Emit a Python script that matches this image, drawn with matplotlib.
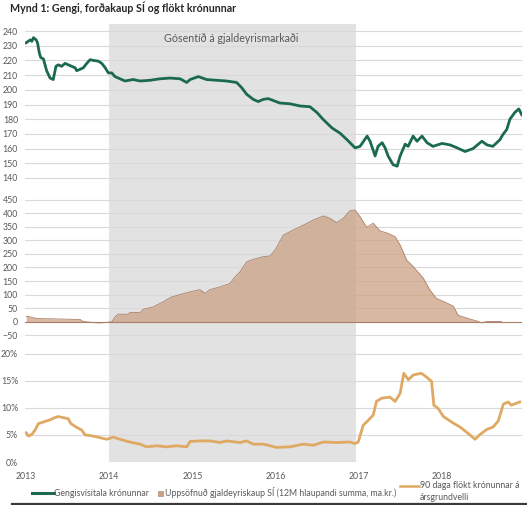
import numpy as np
import pandas as pd
import matplotlib
matplotlib.use("Agg")
import matplotlib.pyplot as plt
import matplotlib.dates as mdates
from matplotlib.lines import Line2D
from matplotlib.patches import Rectangle

plt.rcParams['font.family'] = ['Lato', 'DejaVu Sans']

# ---- Gengisvísitala krónunnar ----
gengi_dates = [
    "2013-01-01", "2013-01-19", "2013-01-26", "2013-02-02", "2013-02-14", "2013-02-20",
    "2013-02-28", "2013-03-06", "2013-03-18", "2013-04-01", "2013-04-16", "2013-04-30",
    "2013-05-12", "2013-05-22", "2013-06-06", "2013-06-21", "2013-07-05", "2013-07-20",
    "2013-08-04", "2013-08-11", "2013-08-26", "2013-09-09", "2013-09-24", "2013-10-09",
    "2013-10-23", "2013-11-14", "2013-11-29", "2013-12-14", "2013-12-28", "2014-01-12",
    "2014-01-26", "2014-02-17", "2014-03-11", "2014-04-16", "2014-05-16", "2014-06-29",
    "2014-08-12", "2014-09-25", "2014-11-08", "2014-12-07", "2014-12-22", "2015-01-27",
    "2015-03-04", "2015-04-17", "2015-05-31", "2015-07-14", "2015-08-05", "2015-08-27",
    "2015-09-25", "2015-10-17", "2015-11-08", "2015-11-30", "2016-01-20", "2016-03-04",
    "2016-04-17", "2016-05-31", "2016-07-01", "2016-07-27", "2016-09-05", "2016-10-10",
    "2016-11-10", "2016-12-15", "2017-01-06", "2017-02-06", "2017-02-19", "2017-03-13",
    "2017-03-26", "2017-04-13", "2017-04-26", "2017-05-09", "2017-05-31", "2017-06-18",
    "2017-07-01", "2017-07-23", "2017-08-05", "2017-08-27", "2017-09-13", "2017-10-05",
    "2017-10-27", "2017-11-22", "2018-01-01", "2018-02-05", "2018-03-08", "2018-04-12",
    "2018-05-17", "2018-06-25", "2018-07-17", "2018-08-12", "2018-09-12", "2018-09-25",
    "2018-10-12", "2018-10-26", "2018-11-16", "2018-12-04", "2018-12-17",
]
gengi_vals = [
    232, 234, 233, 235.5, 234, 232,
    225, 222, 221, 213, 208, 207,
    216, 217, 216, 218, 217, 216,
    215, 213, 214, 215, 218, 220.5,
    220, 219.5, 218, 215, 211.5, 211.5,
    209, 207.5, 206, 207, 206, 206.5,
    207.5, 208, 207.5, 205, 207, 209,
    207, 206.5, 206, 205, 201.5, 197,
    193.5, 192, 193.5, 194, 191, 190.5,
    189, 188.5, 184.5, 180, 174, 170.5,
    166, 160.5, 161.5, 168.5, 165, 155,
    161.5, 164, 160.5, 155, 149, 148,
    155, 163, 161.5, 168.5, 165, 168.5,
    164, 161.5, 163.5, 162.5, 160.5, 158,
    160, 165, 162.5, 161.5, 166, 169.5,
    173, 180, 184.5, 187, 183,
]

# ---- Uppsöfnuð gjaldeyriskaup SÍ (ma.kr.) ----
kaup_dates = [
    "2013-01-01", "2013-01-19", "2013-02-17", "2013-04-16", "2013-06-28", "2013-08-26",
    "2013-09-09", "2013-10-23", "2013-11-21", "2013-12-21", "2014-01-12", "2014-01-26",
    "2014-02-09", "2014-03-25", "2014-04-01", "2014-05-16", "2014-05-30", "2014-07-13",
    "2014-08-26", "2014-10-02", "2014-11-08", "2014-12-22", "2015-02-03", "2015-02-25",
    "2015-03-19", "2015-05-02", "2015-06-15", "2015-07-07", "2015-07-29", "2015-08-27",
    "2015-09-25", "2015-11-08", "2015-12-08", "2015-12-30", "2016-02-04", "2016-03-19",
    "2016-05-02", "2016-06-15", "2016-07-29", "2016-08-27", "2016-09-25", "2016-10-24",
    "2016-11-22", "2016-12-15", "2017-01-06", "2017-02-04", "2017-03-05", "2017-04-03",
    "2017-05-10", "2017-06-09", "2017-07-01", "2017-07-30", "2017-08-28", "2017-10-11",
    "2017-11-09", "2017-12-08", "2018-01-21", "2018-02-19", "2018-03-13", "2018-04-19",
    "2018-06-02", "2018-06-24", "2018-07-16", "2018-09-19",
]
kaup_vals = [
    19.7, 17, 11, 10, 8.6, 7.4,
    0, -4, -5, -3, -1.2, 17,
    27, 27, 33, 33, 45, 54,
    73, 91, 100, 110, 118, 104,
    118, 128, 141, 165, 184, 221,
    230, 240, 243, 265, 320, 339,
    357, 376, 391, 382, 366, 382,
    410, 413, 388, 349, 364, 336,
    326, 314, 283, 227, 203, 160,
    116, 85, 69, 57, 23, 13,
    2, -5, 0, 0,
]

# ---- 90 daga flökt krónunnar á ársgrundvelli (%) ----
flokt_dates = [
    "2013-01-01", "2013-01-11", "2013-01-26", "2013-02-09", "2013-02-24", "2013-03-18",
    "2013-04-16", "2013-05-07", "2013-05-22", "2013-06-13", "2013-07-05", "2013-07-16",
    "2013-08-11", "2013-09-02", "2013-09-17", "2013-10-09", "2013-11-21", "2013-12-21",
    "2014-01-19", "2014-02-17", "2014-04-01", "2014-05-16", "2014-06-14", "2014-07-28",
    "2014-09-10", "2014-10-24", "2014-12-07", "2014-12-22", "2015-02-03", "2015-03-19",
    "2015-05-02", "2015-05-31", "2015-07-29", "2015-08-27", "2015-09-25", "2015-11-08",
    "2015-12-08", "2016-01-05", "2016-03-04", "2016-05-02", "2016-06-15", "2016-07-29",
    "2016-09-25", "2016-11-22", "2016-12-15", "2016-12-29", "2017-01-20", "2017-02-11",
    "2017-03-05", "2017-03-19", "2017-04-11", "2017-05-17", "2017-06-09", "2017-07-01",
    "2017-07-17", "2017-08-06", "2017-08-28", "2017-10-02", "2017-10-22", "2017-11-16",
    "2017-11-26", "2017-12-15", "2018-01-07", "2018-02-19", "2018-03-20", "2018-04-19",
    "2018-05-26", "2018-06-17", "2018-07-16", "2018-08-14", "2018-09-05", "2018-09-27",
    "2018-10-19", "2018-11-01", "2018-12-08",
]
flokt_vals = [
    5.4, 4.8, 5.1, 5.9, 7.1, 7.4,
    7.8, 8.2, 8.4, 8.2, 8.0, 7.1,
    6.4, 5.9, 5.0, 4.9, 4.5, 4.2,
    4.6, 4.2, 3.7, 3.3, 2.8, 3.0,
    2.8, 3.0, 2.8, 3.8, 3.9, 3.9,
    3.6, 3.9, 3.6, 3.9, 3.3, 3.3,
    3.0, 2.7, 2.8, 3.3, 3.1, 3.7,
    3.6, 3.7, 3.4, 3.7, 6.8, 7.7,
    8.7, 11.2, 11.8, 12.0, 11.2, 12.7,
    16.4, 15.2, 16.1, 16.4, 15.8, 14.9,
    10.5, 9.9, 8.4, 7.2, 6.5, 5.5,
    4.2, 5.1, 6.0, 6.5, 7.6, 10.7,
    11.1, 10.5, 11.1,
]

shade_start, shade_end = "2014-01-01", "2016-12-20"

green = "#1b6a4e"
tan = "#cba183"
tan_edge = "#a97f66"
orange = "#dfa964"
grid_c = "#d9d9d9"
txt_c = "#595959"

gd = pd.to_datetime(gengi_dates)
kd = pd.to_datetime(kaup_dates)
fd = pd.to_datetime(flokt_dates)

fig = plt.figure(figsize=(5.27, 5.05), dpi=100)
W, H = 527, 505
left, right = 25 / W, 522 / W


def px_axes(top, bottom):
    return fig.add_axes([left, 1 - bottom / H, right - left, (bottom - top) / H])


ax1 = px_axes(24, 190)
ax2 = px_axes(190, 343)
ax3 = px_axes(343, 462)

for ax in (ax1, ax2, ax3):
    ax.set_facecolor("none")
    for s in ax.spines.values():
        s.set_visible(False)
    ax.axvspan(pd.Timestamp(shade_start), pd.Timestamp(shade_end),
               color="#e2e2e2", lw=0, zorder=0)
    ax.set_xlim(pd.Timestamp("2012-12-27"), pd.Timestamp("2018-12-18"))
    ax.xaxis.set_major_locator(mdates.YearLocator())
    ax.tick_params(axis="both", length=0, labelsize=6.3, colors=txt_c, pad=5)
    ax.yaxis.grid(True, color=grid_c, lw=0.8, zorder=1)
    ax.set_axisbelow(True)

# top: gengi
ax1.plot(gd, gengi_vals, color=green, lw=2.0, zorder=3)
ax1.set_ylim(131.8, 244.8)
ax1.set_yticks(np.arange(140, 241, 10))
ax1.tick_params(axis="x", labelbottom=False)
ax1.text(0.415, 0.915, "Gósentíð á gjaldeyrismarkaði", transform=ax1.transAxes,
         ha="center", va="center", fontsize=7.7, color=txt_c)

# middle: kaup
ax2.fill_between(kd, 0, kaup_vals, color=tan, alpha=0.75, lw=0, zorder=2)
ax2.plot(kd, kaup_vals, color=tan_edge, lw=0.6, zorder=3)
ax2.axhline(0, color=tan_edge, lw=0.8, zorder=3)
ax2.set_ylim(-79.6, 487)
ax2.set_yticks(np.arange(-50, 451, 50))
ax2.tick_params(axis="x", labelbottom=False)

# bottom: flokt
ax3.plot(fd, flokt_vals, color=orange, lw=2.0, zorder=3)
ax3.set_ylim(0, 22.0)
ax3.set_yticks(np.arange(0, 21, 5))
ax3.set_yticklabels([f"{v}%" for v in range(0, 21, 5)])
ax3.xaxis.set_major_formatter(mdates.DateFormatter("%Y"))
ax3.tick_params(axis="x", pad=7)

# title
fig.text(10 / W, 1 - 8 / H, "Mynd 1: Gengi, forðakaup SÍ og flökt krónunnar",
         ha="left", va="center", fontsize=7.7, fontweight="bold", color="#262626")

# legend (placed by hand to follow the original layout)
ly = 1 - 493 / H
fig.add_artist(Line2D([32 / W, 54 / W], [ly, ly], color=green, lw=2.2))
fig.text(54.5 / W, ly, "Gengisvísitala krónunnar", ha="left", va="center",
         fontsize=6.3, color=txt_c)
fig.add_artist(Rectangle((158 / W, ly - 2.5 / H), 5 / W, 5 / H, facecolor=tan,
                         edgecolor=tan_edge, lw=0.4))
fig.text(165 / W, ly, "Uppsöfnuð gjaldeyriskaup SÍ (12M hlaupandi summa, ma.kr.)",
         ha="left", va="center", fontsize=6.3, color=txt_c)
ly3 = 1 - 486 / H
fig.add_artist(Line2D([400 / W, 419 / W], [ly3, ly3], color=orange, lw=1.8))
fig.text(420 / W, ly3, "90 daga flökt krónunnar á", ha="left", va="center",
         fontsize=6.3, color=txt_c)
fig.text(420 / W, 1 - 498 / H, "ársgrundvelli", ha="left", va="center",
         fontsize=6.3, color=txt_c)

# frame line along the bottom edge
fig.add_artist(Line2D([12 / W, 1], [1 - 503.5 / H, 1 - 503.5 / H], color="#3a3a3a", lw=1.6))

fig.savefig("out.png", dpi=100)
